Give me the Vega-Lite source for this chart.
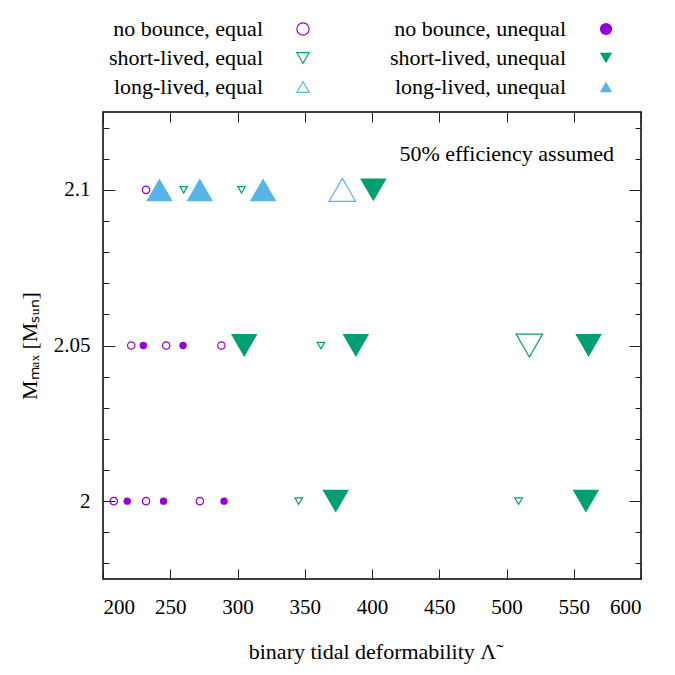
{
  "$schema": "https://vega.github.io/schema/vega-lite/v6.json",
  "background": "white",
  "padding": {"left": 17, "top": 0, "right": 5, "bottom": 5},
  "bounds": "flush",
  "spacing": 12,
  "config": {
    "font": "Liberation Serif, Times New Roman, serif",
    "view": {"stroke": null},
    "axis": {
      "grid": false,
      "domain": false,
      "labelFont": "Liberation Serif, Times New Roman, serif",
      "titleFont": "Liberation Serif, Times New Roman, serif",
      "labelFontSize": 21,
      "titleFontSize": 22,
      "titleFontWeight": "normal",
      "labelColor": "black",
      "titleColor": "black",
      "tickColor": "#222222",
      "tickWidth": 1
    }
  },
  "datasets": {
    "legend": [
      {"outcome": "no bounce", "ratio": "equal", "label": "no bounce, equal"},
      {"outcome": "short-lived", "ratio": "equal", "label": "short-lived, equal"},
      {"outcome": "long-lived", "ratio": "equal", "label": "long-lived, equal"},
      {"outcome": "no bounce", "ratio": "unequal", "label": "no bounce, unequal"},
      {"outcome": "short-lived", "ratio": "unequal", "label": "short-lived, unequal"},
      {"outcome": "long-lived", "ratio": "unequal", "label": "long-lived, unequal"}
    ],
    "points": [
      {"lambda": 232, "mmax": 2.1, "outcome": "no bounce", "ratio": "equal", "prominent": "no"},
      {"lambda": 260, "mmax": 2.1, "outcome": "short-lived", "ratio": "equal", "prominent": "no"},
      {"lambda": 242, "mmax": 2.1, "outcome": "long-lived", "ratio": "unequal", "prominent": "yes"},
      {"lambda": 272, "mmax": 2.1, "outcome": "long-lived", "ratio": "unequal", "prominent": "yes"},
      {"lambda": 303, "mmax": 2.1, "outcome": "short-lived", "ratio": "equal", "prominent": "no"},
      {"lambda": 319, "mmax": 2.1, "outcome": "long-lived", "ratio": "unequal", "prominent": "yes"},
      {"lambda": 378, "mmax": 2.1, "outcome": "long-lived", "ratio": "equal", "prominent": "yes"},
      {"lambda": 401, "mmax": 2.1, "outcome": "short-lived", "ratio": "unequal", "prominent": "yes"},
      {"lambda": 221, "mmax": 2.05, "outcome": "no bounce", "ratio": "equal", "prominent": "no"},
      {"lambda": 230, "mmax": 2.05, "outcome": "no bounce", "ratio": "unequal", "prominent": "no"},
      {"lambda": 247, "mmax": 2.05, "outcome": "no bounce", "ratio": "equal", "prominent": "no"},
      {"lambda": 259.5, "mmax": 2.05, "outcome": "no bounce", "ratio": "unequal", "prominent": "no"},
      {"lambda": 288, "mmax": 2.05, "outcome": "no bounce", "ratio": "equal", "prominent": "no"},
      {"lambda": 305, "mmax": 2.05, "outcome": "short-lived", "ratio": "unequal", "prominent": "yes"},
      {"lambda": 362, "mmax": 2.05, "outcome": "short-lived", "ratio": "equal", "prominent": "no"},
      {"lambda": 388, "mmax": 2.05, "outcome": "short-lived", "ratio": "unequal", "prominent": "yes"},
      {"lambda": 517, "mmax": 2.05, "outcome": "short-lived", "ratio": "equal", "prominent": "yes"},
      {"lambda": 561, "mmax": 2.05, "outcome": "short-lived", "ratio": "unequal", "prominent": "yes"},
      {"lambda": 208, "mmax": 2.0, "outcome": "no bounce", "ratio": "equal", "prominent": "no"},
      {"lambda": 218, "mmax": 2.0, "outcome": "no bounce", "ratio": "unequal", "prominent": "no"},
      {"lambda": 232, "mmax": 2.0, "outcome": "no bounce", "ratio": "equal", "prominent": "no"},
      {"lambda": 245, "mmax": 2.0, "outcome": "no bounce", "ratio": "unequal", "prominent": "no"},
      {"lambda": 272, "mmax": 2.0, "outcome": "no bounce", "ratio": "equal", "prominent": "no"},
      {"lambda": 290, "mmax": 2.0, "outcome": "no bounce", "ratio": "unequal", "prominent": "no"},
      {"lambda": 345.5, "mmax": 2.0, "outcome": "short-lived", "ratio": "equal", "prominent": "no"},
      {"lambda": 373, "mmax": 2.0, "outcome": "short-lived", "ratio": "unequal", "prominent": "yes"},
      {"lambda": 509, "mmax": 2.0, "outcome": "short-lived", "ratio": "equal", "prominent": "no"},
      {"lambda": 559, "mmax": 2.0, "outcome": "short-lived", "ratio": "unequal", "prominent": "yes"}
    ],
    "notes": [
      {"lambda": 580, "mmax": 2.1115, "note": "50% efficiency assumed"}
    ]
  },
  "vconcat": [
    {
      "width": 538,
      "height": 100,
      "view": {"stroke": null},
      "data": {"name": "legend"},
      "encoding": {
        "x": {"field": "ratio", "type": "nominal", "scale": {"type": "point", "domain": ["equal", "unequal"], "range": [200, 503], "padding": 0}, "axis": null},
        "y": {"field": "outcome", "type": "nominal", "scale": {"type": "point", "domain": ["no bounce", "short-lived", "long-lived"], "range": [29, 87], "padding": 0}, "axis": null}
      },
      "layer": [
        {
          "mark": {"type": "text", "align": "right", "baseline": "middle", "dx": -40, "fontSize": 22, "font": "Liberation Serif, Times New Roman, serif", "color": "black"},
          "encoding": {"text": {"field": "label"}}
        },
        {
          "transform": [{"filter": "datum.ratio === 'equal'"}],
          "mark": {"type": "point", "filled": false, "size": 150, "strokeWidth": 1.2, "opacity": 1},
          "encoding": {
            "shape": {"field": "outcome", "type": "nominal", "scale": {"domain": ["no bounce", "short-lived", "long-lived"], "range": ["circle", "triangle-down", "triangle-up"]}, "legend": null},
            "color": {"field": "outcome", "type": "nominal", "scale": {"domain": ["no bounce", "short-lived", "long-lived"], "range": ["#9400D3", "#009E73", "#56B4E9"]}, "legend": null}
          }
        },
        {
          "transform": [{"filter": "datum.ratio === 'unequal'"}],
          "mark": {"type": "point", "filled": true, "size": 150, "opacity": 1},
          "encoding": {
            "shape": {"field": "outcome", "type": "nominal", "scale": {"domain": ["no bounce", "short-lived", "long-lived"], "range": ["circle", "triangle-down", "triangle-up"]}, "legend": null},
            "color": {"field": "outcome", "type": "nominal", "scale": {"domain": ["no bounce", "short-lived", "long-lived"], "range": ["#9400D3", "#009E73", "#56B4E9"]}, "legend": null}
          }
        }
      ]
    },
    {
      "width": 538,
      "height": 467,
      "view": {"stroke": "black", "strokeWidth": 1.5},
      "resolve": {"axis": {"x": "independent", "y": "independent"}},
      "layer": [
        {
          "data": {"name": "points"},
          "transform": [{"filter": "datum.ratio === 'equal'"}],
          "mark": {"type": "point", "filled": false, "strokeWidth": 1.2, "opacity": 1},
          "encoding": {
            "x": {"field": "lambda", "type": "quantitative", "scale": {"domain": [200, 600], "nice": false, "zero": false},
              "axis": {"orient": "bottom", "values": [200, 250, 300, 350, 400, 450, 500, 550, 600], "tickSize": -10, "labelPadding": 27, "title": "binary tidal deformability Λ̃", "titlePadding": 24}},
            "y": {"field": "mmax", "type": "quantitative", "scale": {"domain": [1.975, 2.125], "nice": false, "zero": false},
              "axis": {"orient": "left", "values": [2, 2.05, 2.1], "format": "~g", "tickSize": -12, "labelPadding": 25, "title": "Mₘₐₓ [Mₛᵤₙ]", "titlePadding": 12}},
            "shape": {"field": "outcome", "type": "nominal", "scale": {"domain": ["no bounce", "short-lived", "long-lived"], "range": ["circle", "triangle-down", "triangle-up"]}, "legend": null},
            "color": {"field": "outcome", "type": "nominal", "scale": {"domain": ["no bounce", "short-lived", "long-lived"], "range": ["#9400D3", "#009E73", "#56B4E9"]}, "legend": null},
            "size": {"field": "prominent", "type": "nominal", "scale": {"domain": ["no", "yes"], "range": [55, 700]}, "legend": null}
          }
        },
        {
          "data": {"name": "points"},
          "transform": [{"filter": "datum.ratio === 'unequal'"}],
          "mark": {"type": "point", "filled": true, "opacity": 1},
          "encoding": {
            "x": {"field": "lambda", "type": "quantitative", "scale": {"domain": [200, 600], "nice": false, "zero": false},
              "axis": {"orient": "top", "values": [200, 250, 300, 350, 400, 450, 500, 550, 600], "tickSize": -10, "labels": false, "title": null}},
            "y": {"field": "mmax", "type": "quantitative", "scale": {"domain": [1.975, 2.125], "nice": false, "zero": false},
              "axis": {"orient": "left", "values": [1.98, 1.99, 2.01, 2.02, 2.03, 2.04, 2.06, 2.07, 2.08, 2.09, 2.11, 2.12], "tickSize": -6, "labels": false, "title": null}},
            "shape": {"field": "outcome", "type": "nominal", "scale": {"domain": ["no bounce", "short-lived", "long-lived"], "range": ["circle", "triangle-down", "triangle-up"]}, "legend": null},
            "color": {"field": "outcome", "type": "nominal", "scale": {"domain": ["no bounce", "short-lived", "long-lived"], "range": ["#9400D3", "#009E73", "#56B4E9"]}, "legend": null},
            "size": {"field": "prominent", "type": "nominal", "scale": {"domain": ["no", "yes"], "range": [55, 700]}, "legend": null}
          }
        },
        {
          "data": {"name": "notes"},
          "mark": {"type": "text", "align": "right", "baseline": "middle", "fontSize": 22, "font": "Liberation Serif, Times New Roman, serif", "color": "black"},
          "encoding": {
            "x": {"field": "lambda", "type": "quantitative", "scale": {"domain": [200, 600], "nice": false, "zero": false}, "axis": null},
            "y": {"field": "mmax", "type": "quantitative", "scale": {"domain": [1.975, 2.125], "nice": false, "zero": false},
              "axis": {"orient": "right", "values": [2, 2.05, 2.1], "tickSize": -12, "labels": false, "title": null}},
            "text": {"field": "note"}
          }
        },
        {
          "data": {"name": "points"},
          "mark": {"type": "point", "opacity": 0},
          "encoding": {
            "x": {"field": "lambda", "type": "quantitative", "scale": {"domain": [200, 600], "nice": false, "zero": false}, "axis": null},
            "y": {"field": "mmax", "type": "quantitative", "scale": {"domain": [1.975, 2.125], "nice": false, "zero": false},
              "axis": {"orient": "right", "values": [1.98, 1.99, 2.01, 2.02, 2.03, 2.04, 2.06, 2.07, 2.08, 2.09, 2.11, 2.12], "tickSize": -6, "labels": false, "title": null}}
          }
        }
      ]
    }
  ]
}
